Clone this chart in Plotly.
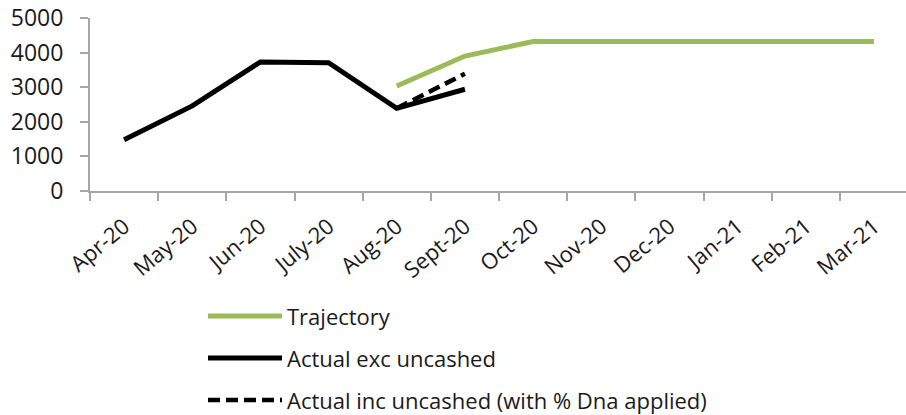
import plotly.graph_objects as go

months = ["Apr-20", "May-20", "Jun-20", "July-20", "Aug-20", "Sept-20",
          "Oct-20", "Nov-20", "Dec-20", "Jan-21", "Feb-21", "Mar-21"]

trajectory = [None, None, None, None, 3035, 3900, 4320, 4320, 4320, 4320, 4320, 4320]
actual_exc = [1480, 2460, 3730, 3710, 2390, 2940, None, None, None, None, None, None]
actual_inc = [None, None, None, None, 2390, 3390, None, None, None, None, None, None]

GREEN = "#9bbb59"
BLACK = "#000000"
AXIS = "#a6a6a6"
TEXT = "#1a1a1a"
FONT = "Open Sans"
DASH = "12px,6px"

W, H = 906, 415
ML, MR, MT, MB = 90, 0, 18, 224

fig = go.Figure()
fig.add_trace(go.Scatter(x=months, y=trajectory, mode="lines", name="Trajectory",
                         line=dict(color=GREEN, width=5)))
fig.add_trace(go.Scatter(x=months, y=actual_exc, mode="lines", name="Actual exc uncashed",
                         line=dict(color=BLACK, width=5)))
fig.add_trace(go.Scatter(x=months, y=actual_inc, mode="lines",
                         name="Actual inc uncashed (with % Dna applied)",
                         line=dict(color=BLACK, width=4.5, dash=DASH)))

# legend drawn below the plot: sample line + label
legend_items = [
    ("Trajectory", GREEN, "solid", 5, 316),
    ("Actual exc uncashed", BLACK, "solid", 5, 358),
    ("Actual inc uncashed (with % Dna applied)", BLACK, DASH, 4.5, 400),
]
pw, ph = W - ML - MR, H - MT - MB


def px_x(v):
    return (v - ML) / pw


def px_y(v):
    return (H - MB - v) / ph


for label, color, dash, width, ypix in legend_items:
    fig.add_shape(type="line", xref="paper", yref="paper",
                  x0=px_x(208), x1=px_x(282), y0=px_y(ypix), y1=px_y(ypix),
                  line=dict(color=color, width=width, dash=dash))
    fig.add_annotation(xref="paper", yref="paper", x=px_x(285), y=px_y(ypix),
                       text=label, showarrow=False, xanchor="left", yanchor="middle",
                       font=dict(family=FONT, size=22, color=TEXT))

fig.update_layout(
    width=W, height=H,
    margin=dict(l=ML, r=MR, t=MT, b=MB),
    paper_bgcolor="white", plot_bgcolor="white",
    showlegend=False,
    font=dict(family=FONT, color=TEXT),
)
fig.update_xaxes(
    type="category", range=[-0.5, 11.47],
    showline=True, linecolor=AXIS, linewidth=2,
    ticks="outside", tickson="boundaries", ticklen=8, tickcolor=AXIS, tickwidth=2,
    tickangle=-40, ticklabelstandoff=12,
    tickfont=dict(family=FONT, size=22, color=TEXT),
    showgrid=False, zeroline=False,
)
fig.update_yaxes(
    range=[0, 5000], tickvals=[0, 1000, 2000, 3000, 4000, 5000],
    showline=True, linecolor=AXIS, linewidth=2,
    ticks="outside", ticklen=8, tickcolor=AXIS, tickwidth=2, ticklabelstandoff=12,
    tickfont=dict(family=FONT, size=23, color=TEXT),
    showgrid=False, zeroline=False,
)

fig.write_html("out.html")
